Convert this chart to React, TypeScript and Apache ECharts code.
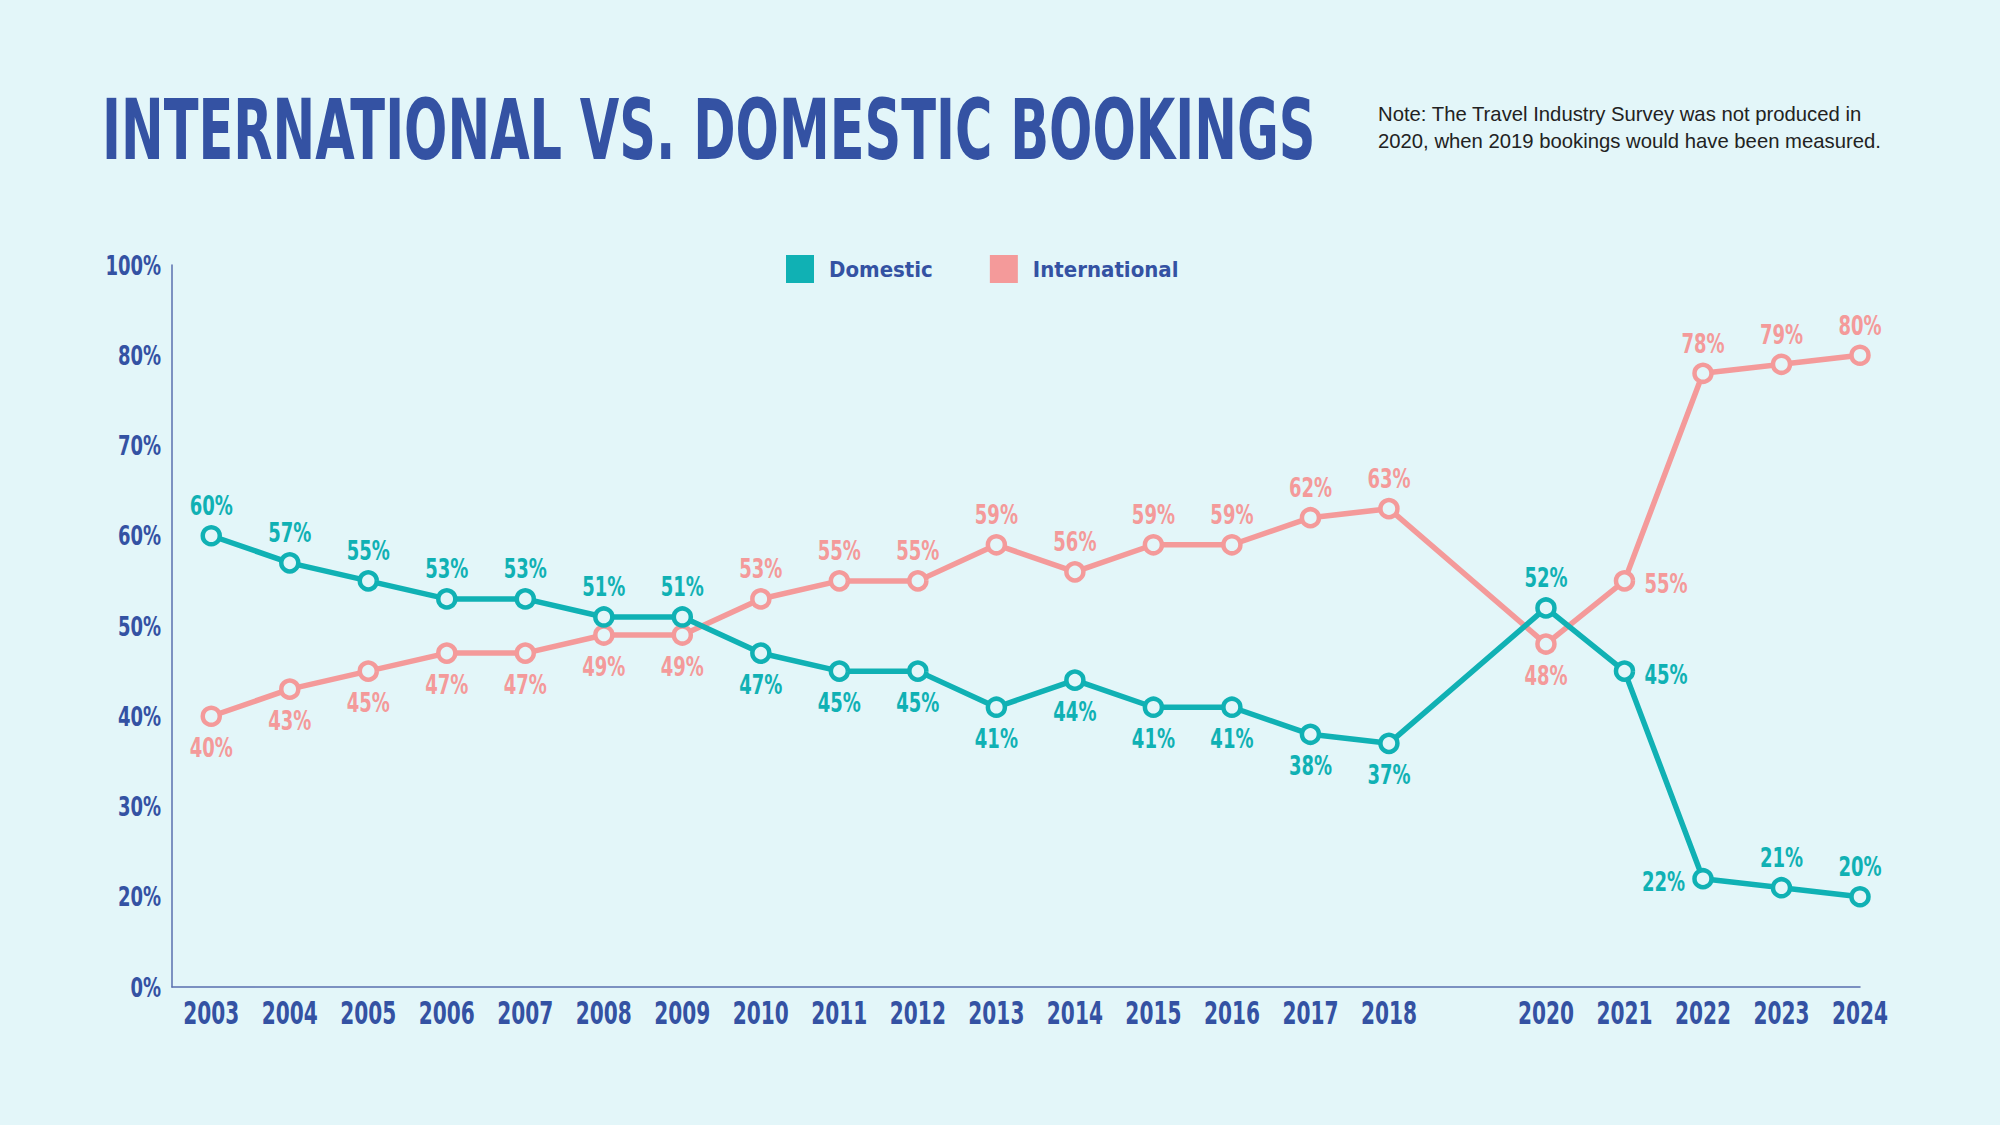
import React, { useEffect, useRef } from "react";
import * as echarts from "echarts";

const years = [2003, 2004, 2005, 2006, 2007, 2008, 2009, 2010, 2011, 2012, 2013, 2014, 2015, 2016, 2017, 2018, 2020, 2021, 2022, 2023, 2024];
const domestic = [60, 57, 55, 53, 53, 51, 51, 47, 45, 45, 41, 44, 41, 41, 38, 37, 52, 45, 22, 21, 20];
const international = [40, 43, 45, 47, 47, 49, 49, 53, 55, 55, 59, 56, 59, 59, 62, 63, 48, 55, 78, 79, 80];
const domesticLabelPos = ["top", "top", "top", "top", "top", "top", "top", "bottom", "bottom", "bottom", "bottom", "bottom", "bottom", "bottom", "bottom", "bottom", "top", "right", "left", "top", "top"];
const internationalLabelPos = ["bottom", "bottom", "bottom", "bottom", "bottom", "bottom", "bottom", "top", "top", "top", "top", "top", "top", "top", "top", "top", "bottom", "right", "top", "top", "top"];
const yTickValues = [10, 20, 30, 40, 50, 60, 70, 80, 90];
const yTickLabels = ["0%", "20%", "30%", "40%", "50%", "60%", "70%", "80%", "100%"];
const firstYear = 2003;
const lastYear = 2024;

const BG = "#e3f6f9";
const TEAL = "#10b1b4";
const PINK = "#f49a9a";
const BLUE = "#3452a3";
const AXIS = "#5a6fae";
const NARROW = '"DejaVu Sans Condensed", "DejaVu Sans", sans-serif';

// x position in half-year steps so that the first year sits half a step from the y axis
const toX = (y: number) => (y - firstYear) * 2 + 1;

const squeezedText = (x: number, y: number, text: string, color: string, size: number, scaleX: number, align: string, vAlign: string) => ({
  type: "text",
  x,
  y,
  scaleX,
  silent: true,
  style: { text, x: 0, y: 0, fill: color, fontFamily: NARROW, fontWeight: "bold", fontSize: size, align, verticalAlign: vAlign },
});

const pointLabelSeries = (name: string, vals: number[], pos: string[], color: string) => ({
  type: "custom",
  name: name + " labels",
  silent: true,
  z: 10,
  data: vals.map((v, i) => [toX(years[i]), v]),
  encode: { x: 0, y: 1 },
  renderItem: (params: any, api: any) => {
    const i = params.dataIndex;
    const pt = api.coord([api.value(0), api.value(1)]);
    const p = pos[i];
    const txt = vals[i] + "%";
    if (p === "top") return squeezedText(pt[0], pt[1] - 30, txt, color, 26, 0.77, "center", "middle");
    if (p === "bottom") return squeezedText(pt[0], pt[1] + 31, txt, color, 26, 0.77, "center", "middle");
    if (p === "right") return squeezedText(pt[0] + 20, pt[1] + 3, txt, color, 26, 0.77, "left", "middle");
    return squeezedText(pt[0] - 18, pt[1] + 3, txt, color, 26, 0.77, "right", "middle");
  },
});

export default function App() {
  const ref = useRef<HTMLDivElement>(null);
  useEffect(() => {
    document.body.style.margin = "0";
    const chart = echarts.init(ref.current!, null, { renderer: "svg" });
    chart.setOption({
      animation: false,
      backgroundColor: BG,
      graphic: [
        {
          type: "text",
          x: 102,
          y: 130,
          scaleX: 0.675,
          style: {
            text: "INTERNATIONAL VS. DOMESTIC BOOKINGS",
            x: 0,
            y: 0,
            fill: BLUE,
            fontFamily: NARROW,
            fontWeight: "bold",
            fontSize: 84,
            verticalAlign: "middle",
          },
        },
        {
          type: "text",
          x: 1378,
          y: 100,
          style: {
            text: "Note: The Travel Industry Survey was not produced in\n2020, when 2019 bookings would have been measured.",
            x: 0,
            y: 0,
            fill: "#222",
            fontFamily: '"Liberation Sans", Arial, sans-serif',
            fontSize: 20.3,
            lineHeight: 27,
            verticalAlign: "top",
          },
        },
      ],
      legend: {
        left: 781,
        top: 250,
        icon: "rect",
        itemWidth: 28,
        itemHeight: 28,
        itemGap: 57,
        textStyle: { color: BLUE, fontFamily: NARROW, fontWeight: "bold", fontSize: 22, padding: [0, 0, 0, 10] },
        data: [
          { name: "Domestic", itemStyle: { color: TEAL, borderWidth: 0 } },
          { name: "International", itemStyle: { color: PINK, borderWidth: 0 } },
        ],
      },
      grid: { left: 172, right: 140, top: 265, bottom: 138, containLabel: false },
      xAxis: {
        type: "value",
        min: 0,
        max: toX(lastYear),
        interval: 1,
        axisLine: { show: true, lineStyle: { color: AXIS, width: 1.5 } },
        axisTick: { show: false },
        splitLine: { show: false },
        axisLabel: { show: false },
      },
      yAxis: {
        type: "value",
        min: 10,
        max: 90,
        interval: 10,
        axisLine: { show: true, lineStyle: { color: AXIS, width: 1.5 } },
        axisTick: { show: false },
        splitLine: { show: false },
        axisLabel: { show: false },
      },
      series: [
        {
          name: "Domestic",
          type: "line",
          data: domestic.map((v, i) => [toX(years[i]), v]),
          lineStyle: { color: TEAL, width: 5.5 },
          symbol: "circle",
          symbolSize: 17,
          itemStyle: { color: BG, borderColor: TEAL, borderWidth: 4.5 },
          z: 3,
        },
        {
          name: "International",
          type: "line",
          data: international.map((v, i) => [toX(years[i]), v]),
          lineStyle: { color: PINK, width: 5.5 },
          symbol: "circle",
          symbolSize: 17,
          itemStyle: { color: BG, borderColor: PINK, borderWidth: 4.5 },
          z: 2,
        },
        pointLabelSeries("Domestic", domestic, domesticLabelPos, TEAL),
        pointLabelSeries("International", international, internationalLabelPos, PINK),
        {
          type: "custom",
          name: "year labels",
          silent: true,
          data: years.map((y) => [toX(y), 10]),
          encode: { x: 0, y: 1 },
          renderItem: (params: any, api: any) => {
            const pt = api.coord([api.value(0), api.value(1)]);
            return squeezedText(pt[0], pt[1] + 26, String(years[params.dataIndex]), BLUE, 32, 0.7, "center", "middle");
          },
        },
        {
          type: "custom",
          name: "value labels",
          silent: true,
          data: yTickValues.map((v) => [0, v]),
          encode: { x: 0, y: 1 },
          renderItem: (params: any, api: any) => {
            const pt = api.coord([api.value(0), api.value(1)]);
            return squeezedText(pt[0] - 11, pt[1], yTickLabels[params.dataIndex], BLUE, 26, 0.77, "right", "middle");
          },
        },
      ],
    });
    return () => chart.dispose();
  }, []);
  return <div ref={ref} style={{ position: "fixed", left: 0, top: 0, width: 2000, height: 1125 }} />;
}
